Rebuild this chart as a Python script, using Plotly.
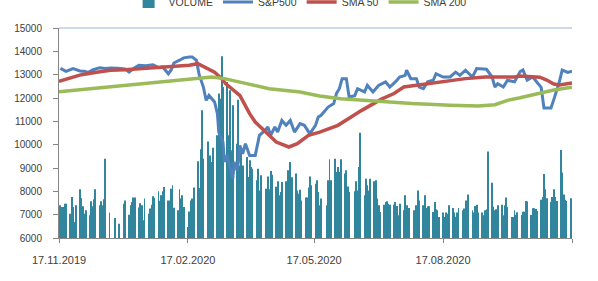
import plotly.graph_objects as go
import pandas as pd

# ---------------- data ----------------
volume = [
    7400, 7330, 7330, 7470, 7470,
    7040, 7760, 7330, 6690, 7400,
    8090, 7710, 7360, 7040, 7190,
    6970, 7570, 7360, 7660, 8090,
    7400, 7570, 7400, 7660, 9400,
    7090, 5600, 5600, 5600, 6860,
    6610, 5600, 5600, 7470, 7610,
    7000, 7400, 7540, 7740, 7740,
    7310, 7490, 7400, 6760, 7690,
    7040, 7260, 7430, 7790, 7730,
    8000, 7600, 7830, 8000, 8190,
    7610, 7610, 8110, 8260, 7300,
    7190, 8090, 7690, 7830, 7330,
    6470, 7140, 7610, 7690, 8160,
    9290, 8140, 9800, 11470, 9400,
    10140, 9330, 9540, 9260, 9870,
    10400, 12190, 11970, 13790, 12470,
    12690, 10400, 12330, 9760, 11690,
    10040, 11930, 9110, 9710, 9110,
    9470, 8610, 9330, 9040, 8970,
    8470, 8970, 8040, 8690, 5600,
    8110, 8640, 8090, 8870, 8710,
    8200, 8430, 7830, 7970, 8400,
    8430, 8900, 8900, 9260, 8600,
    8760, 8040, 7900, 8070, 7610,
    7740, 7740, 8160, 8640, 8260,
    8330, 8470, 7970, 7400, 7690,
    5600, 7400, 8470, 9370, 8470,
    9400, 8830, 9040, 8830, 9370,
    8760, 8900, 8210, 7970, 5600,
    8000, 8430, 8040, 9040, 10510,
    7830, 8540, 8260, 8040, 8540,
    8430, 8470, 7690, 7400, 7110,
    7430, 7540, 7570, 7470, 7430,
    7430, 7540, 7370, 6970, 7470,
    7190, 7830, 7400, 7290, 7290,
    7190, 7140, 7400, 8040, 7610,
    7400, 7830, 7290, 7360, 7360,
    7110, 7540, 7230, 7190, 6900,
    7090, 6900, 7090, 7040, 7400,
    7290, 7090, 6910, 7090, 7290,
    7190, 7260, 7610, 7610, 7860,
    7190, 7090, 7370, 7430, 7090,
    7090, 6970, 7190, 7230, 9710,
    8370, 7340, 7190, 7230, 7400,
    7430, 6970, 7400, 7740, 7330,
    6900, 6900, 7190, 7000, 7100,
    6990, 7130, 7130, 7590, 7560,
    6990, 7270, 7270, 7240, 7160,
    7640, 7760, 8740, 8090, 7700,
    7540, 7760, 8090, 7760, 7590,
    9770, 8810, 7860, 7640, 7590,
    7700,
]
volume_dates = pd.bdate_range("2019-11-18", periods=len(volume))

sp_dates = [
    "2019-11-18", "2019-11-22", "2019-11-27", "2019-12-02", "2019-12-05", "2019-12-08",
    "2019-12-11", "2019-12-16", "2019-12-20", "2019-12-24", "2019-12-29", "2020-01-03",
    "2020-01-06", "2020-01-10", "2020-01-13", "2020-01-18", "2020-01-23", "2020-01-27",
    "2020-01-30", "2020-02-03", "2020-02-05", "2020-02-07", "2020-02-11", "2020-02-14",
    "2020-02-18", "2020-02-20", "2020-02-23", "2020-02-25", "2020-02-28", "2020-03-01",
    "2020-03-03", "2020-03-07", "2020-03-09", "2020-03-10", "2020-03-13", "2020-03-14",
    "2020-03-16", "2020-03-19", "2020-03-20", "2020-03-21", "2020-03-23", "2020-03-24",
    "2020-03-25", "2020-03-27", "2020-03-29", "2020-04-01", "2020-04-05", "2020-04-08",
    "2020-04-12", "2020-04-14", "2020-04-16", "2020-04-19", "2020-04-21", "2020-04-24",
    "2020-04-27", "2020-04-30", "2020-05-03", "2020-05-07", "2020-05-10", "2020-05-14",
    "2020-05-18", "2020-05-20", "2020-05-22", "2020-05-27", "2020-05-31", "2020-06-02",
    "2020-06-04", "2020-06-06", "2020-06-09", "2020-06-11", "2020-06-15", "2020-06-17",
    "2020-06-22", "2020-06-24", "2020-06-28", "2020-07-02", "2020-07-07", "2020-07-10",
    "2020-07-14", "2020-07-17", "2020-07-21", "2020-07-22", "2020-07-25", "2020-07-29",
    "2020-07-31", "2020-08-03", "2020-08-06", "2020-08-10", "2020-08-12", "2020-08-17",
    "2020-08-22", "2020-08-26", "2020-08-29", "2020-09-02", "2020-09-07", "2020-09-10",
    "2020-09-14", "2020-09-17", "2020-09-21", "2020-09-23", "2020-09-25", "2020-09-29",
    "2020-10-02", "2020-10-07", "2020-10-11", "2020-10-13", "2020-10-16", "2020-10-20",
    "2020-10-24", "2020-10-26", "2020-10-28", "2020-11-02", "2020-11-04", "2020-11-08",
    "2020-11-10", "2020-11-14", "2020-11-17",
]
sp_values = [
    13270, 13140, 13260, 13160, 13150, 13100,
    13200, 13300, 13260, 13290, 13280, 13250,
    13110, 13300, 13400, 13380, 13420, 13300,
    13330, 13040, 13200, 13500, 13620, 13720,
    13760, 13760, 13620, 13000, 12470, 11900,
    12110, 11830, 11330, 10540, 10110, 9260,
    9540, 8830, 8540, 9260, 8900, 9260,
    9970, 9610, 10040, 9540, 9540, 10400,
    10610, 10760, 10400, 10760, 10540, 11040,
    10830, 11040, 10540, 10900, 10830, 10470,
    10830, 11190, 11260, 11610, 11760, 12200,
    12400, 12830, 12830, 12040, 12100, 12400,
    12260, 12540, 12260, 12540, 12690, 12470,
    12690, 12900, 12970, 13190, 12830, 12830,
    12470, 12400, 12690, 12760, 13040, 12900,
    12900, 13110, 12970, 13190, 12900, 13260,
    13230, 13230, 12900, 12470, 12610, 12470,
    12760, 12690, 13130, 13200, 12770, 12900,
    12600, 12460, 11570, 11570, 11930, 12700,
    13200, 13100, 13150,
]

sma50_dates = [
    "2019-11-17", "2019-12-03", "2019-12-15", "2019-12-24", "2020-01-03", "2020-01-23",
    "2020-02-18", "2020-02-24", "2020-03-07", "2020-03-12", "2020-03-15", "2020-03-25",
    "2020-04-01", "2020-04-05", "2020-04-10", "2020-04-20", "2020-04-29", "2020-05-05",
    "2020-05-13", "2020-05-21", "2020-06-03", "2020-06-20", "2020-07-04", "2020-07-13",
    "2020-07-20", "2020-07-29", "2020-08-05", "2020-08-22", "2020-09-02", "2020-09-16",
    "2020-10-07", "2020-10-11", "2020-10-25", "2020-10-30", "2020-11-04", "2020-11-08",
    "2020-11-17",
]
sma50_values = [
    12710, 13000, 13110, 13190, 13210, 13300,
    13400, 13470, 13110, 12830, 12610, 12110,
    11330, 10970, 10690, 10110, 9900, 10040,
    10400, 10540, 10830, 11470, 11950, 12190,
    12470, 12540, 12610, 12760, 12830, 12900,
    12900, 12940, 12890, 12770, 12600, 12560,
    12640,
]

sma200_dates = [
    "2019-11-17", "2020-01-03", "2020-02-18", "2020-03-05", "2020-03-14", "2020-04-05",
    "2020-04-15", "2020-05-07", "2020-05-21", "2020-06-05", "2020-06-22", "2020-07-07",
    "2020-07-26", "2020-08-22", "2020-09-11", "2020-09-23", "2020-10-02", "2020-10-11",
    "2020-11-04", "2020-11-17",
]
sma200_values = [
    12270, 12543, 12800, 12900, 12830, 12520,
    12400, 12260, 12090, 11970, 11900, 11830,
    11760, 11690, 11660, 11710, 11900, 12010,
    12340, 12460,
]

x_tick_vals = ["2019-11-17", "2020-02-17", "2020-05-17", "2020-08-17", "2020-11-17"]
x_tick_text = ["17.11.2019", "17.02.2020", "17.05.2020", "17.08.2020", ""]

# ---------------- figure ----------------
AXIS = "#868686"
fig = go.Figure()
fig.add_trace(go.Bar(x=volume_dates, y=volume, name="VOLUME",
                     marker=dict(color="#31859C", line=dict(width=0))))
fig.add_trace(go.Scatter(x=sp_dates, y=sp_values, name="S&P500", mode="lines",
                         line=dict(color="#4F81BD", width=3)))
fig.add_trace(go.Scatter(x=sma50_dates, y=sma50_values, name="SMA 50", mode="lines",
                         line=dict(color="#C0504D", width=3.5)))
fig.add_trace(go.Scatter(x=sma200_dates, y=sma200_values, name="SMA 200", mode="lines",
                         line=dict(color="#9BBB59", width=3.5)))

fig.update_layout(
    width=598, height=281,
    margin=dict(l=59, r=26, t=28, b=43, autoexpand=False),
    paper_bgcolor="white", plot_bgcolor="white",
    font=dict(family="Liberation Sans, Arial, sans-serif", size=11, color="#404040"),
    bargap=0.35,
    showlegend=True,
    legend=dict(orientation="h", x=0.47, xanchor="center", y=1.124, yanchor="middle",
                font=dict(size=10.5, color="#404040"), bgcolor="rgba(0,0,0,0)",
                itemwidth=30, traceorder="normal"),
    xaxis=dict(type="date", range=["2019-11-17", "2020-11-17"],
               tickmode="array", tickvals=x_tick_vals, ticktext=x_tick_text,
               ticks="outside", ticklen=4, tickcolor=AXIS,
               showline=True, linecolor=AXIS, linewidth=1,
               showgrid=False, zeroline=False, ticklabelstandoff=8,
               tickfont=dict(size=11)),
    yaxis=dict(range=[6000, 15000], tick0=6000, dtick=1000, tickformat="d",
               ticks="outside", ticklen=5, tickcolor=AXIS,
               showline=True, linecolor=AXIS, linewidth=1,
               showgrid=False, zeroline=False, ticklabelstandoff=9,
               tickfont=dict(size=10)),
    yaxis2=dict(overlaying="y", side="right", range=[6000, 15000], tick0=6000, dtick=1000,
                ticks="outside", ticklen=4, tickcolor=AXIS, showticklabels=False,
                showline=True, linecolor=AXIS, linewidth=1,
                showgrid=False, zeroline=False),
    shapes=[dict(type="line", xref="paper", yref="paper", x0=0, x1=1, y0=1, y1=1,
                 line=dict(color="#95B3D7", width=1))],
)

fig.write_html("out.html",
               config={"displayModeBar": False},
               post_script="document.body.style.margin='0';document.body.style.padding='0';")
